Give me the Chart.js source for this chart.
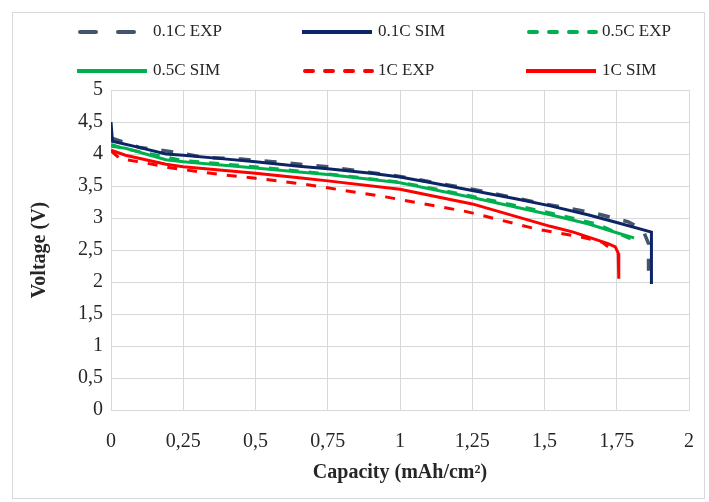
<!DOCTYPE html>
<html>
<head>
<meta charset="utf-8">
<script src="https://cdn.jsdelivr.net/npm/chart.js@4.4.1/dist/chart.umd.min.js"></script>
<style>
  html, body { margin: 0; padding: 0; background: #fff; }
</style>
</head>
<body>
<canvas id="myChart" width="709" height="502"></canvas>
<script>
// 數據 : 放電曲線 (容量 mAh/cm2 , 電壓 V)
var seriesNames = ['0.1C EXP', '0.1C SIM', '0.5C EXP', '0.5C SIM', '1C EXP', '1C SIM'];

var exp01X = [0, 0.1, 0.22, 0.32, 0.45, 0.56, 0.75, 1, 1.25, 1.5, 1.67, 1.79, 1.84, 1.86, 1.86];
var exp01Y = [4.25, 4.1, 4.03, 3.95, 3.92, 3.88, 3.8, 3.65, 3.45, 3.22, 3.08, 2.94, 2.82, 2.6, 2.1];

var sim01X = [0, 0.005, 0.1, 0.19, 0.25, 0.4, 0.5, 0.65, 0.75, 0.9, 1, 1.1, 1.25, 1.4, 1.52, 1.65, 1.75, 1.87, 1.87];
var sim01Y = [4.5, 4.2, 4.1, 4.0, 3.98, 3.92, 3.88, 3.81, 3.77, 3.7, 3.64, 3.56, 3.43, 3.3, 3.19, 3.05, 2.93, 2.78, 1.97];

var exp05X = [0, 0.05, 0.25, 0.5, 0.75, 1, 1.14, 1.25, 1.5, 1.68, 1.8];
var exp05Y = [4.15, 4.08, 3.9, 3.8, 3.69, 3.56, 3.44, 3.34, 3.1, 2.91, 2.67];

var sim05X = [0, 0.05, 0.19, 0.25, 0.5, 0.65, 0.75, 1, 1.25, 1.52, 1.65, 1.75, 1.81];
var sim05Y = [4.12, 4.09, 3.91, 3.88, 3.78, 3.72, 3.68, 3.55, 3.32, 3.05, 2.91, 2.77, 2.69];

var exp1X = [0, 0.03, 0.12, 0.21, 0.31, 0.4, 0.5, 0.58, 0.68, 0.95, 1.23, 1.48, 1.63, 1.7, 1.72];
var exp1Y = [4.05, 3.93, 3.86, 3.78, 3.72, 3.67, 3.62, 3.58, 3.52, 3.33, 3.1, 2.82, 2.7, 2.62, 2.55];

var sim1X = [0, 0.05, 0.19, 0.25, 0.5, 0.65, 0.75, 1, 1.25, 1.52, 1.6, 1.72, 1.745, 1.755, 1.757];
var sim1Y = [4.06, 3.98, 3.84, 3.8, 3.7, 3.63, 3.58, 3.45, 3.22, 2.87, 2.78, 2.6, 2.55, 2.45, 2.05];

var xTicks = [0, 0.25, 0.5, 0.75, 1, 1.25, 1.5, 1.75, 2];
var yTicks = [0, 0.5, 1, 1.5, 2, 2.5, 3, 3.5, 4, 4.5, 5];

function pts(xs, ys){
  return xs.map(function(x, i){ return {x: x, y: ys[i]}; });
}
function comma(v){
  return String(v).replace('.', ',');
}

var colors = ['#44546a', '#0d2566', '#00b050', '#00b050', '#ff0000', '#ff0000'];
var dashes = [[12, 14], [], [10, 10], [], [10, 10], []];
var widths = [3.5, 3, 3, 3, 3, 3];
var allData = [pts(exp01X, exp01Y), pts(sim01X, sim01Y), pts(exp05X, exp05Y),
               pts(sim05X, sim05Y), pts(exp1X, exp1Y), pts(sim1X, sim1Y)];

// 圖例 : 三欄兩列
var legendColX = [77, 302, 526];
var legendRowY = [32, 71];
var gridLegend = {
  id: 'gridLegend',
  beforeDraw: function(chart){
    var ctx = chart.ctx;
    ctx.save();
    ctx.fillStyle = '#fff';
    ctx.fillRect(0, 0, chart.width, chart.height);
    ctx.strokeStyle = '#d9d9d9';
    ctx.lineWidth = 1;
    ctx.strokeRect(12.5, 12.5, 692, 486);
    ctx.restore();
  },
  afterDraw: function(chart){
    var ctx = chart.ctx;
    ctx.save();
    chart.data.datasets.forEach(function(ds, i){
      var x = legendColX[i % 3], y = legendRowY[Math.floor(i / 3)];
      ctx.beginPath();
      ctx.strokeStyle = ds.borderColor;
      ctx.lineWidth = 4;
      ctx.lineCap = ds.borderDash.length ? 'round' : 'butt';
      ctx.setLineDash(i === 0 ? [16, 22] : (ds.borderDash.length ? [8, 12] : []));
      ctx.moveTo(x + (ds.borderDash.length ? 3 : 0), y);
      ctx.lineTo(x + 70, y);
      ctx.stroke();
      ctx.setLineDash([]);
      ctx.fillStyle = '#262626';
      ctx.font = "17px 'Liberation Serif'";
      ctx.textBaseline = 'middle';
      ctx.fillText(ds.label, x + 76, y);
    });
    ctx.restore();
  }
};

Chart.defaults.font.family = "'Liberation Serif', 'Times New Roman', serif";
Chart.defaults.color = '#262626';

new Chart(document.getElementById('myChart'), {
  type: 'scatter',
  data: {
    datasets: seriesNames.map(function(name, i){
      return {
        label: name,
        data: allData[i],
        showLine: true,
        borderColor: colors[i],
        backgroundColor: colors[i],
        borderDash: dashes[i],
        borderWidth: widths[i],
        pointRadius: 0,
        tension: 0,
        order: 6 - i
      };
    })
  },
  options: {
    responsive: false,
    animation: false,
    layout: { padding: { left: 22, right: 20, top: 90, bottom: 14 } },
    plugins: { legend: { display: false }, tooltip: { enabled: false } },
    scales: {
      x: {
        type: 'linear', min: 0, max: 2,
        afterBuildTicks: function(s){ s.ticks = xTicks.map(function(v){ return {value: v}; }); },
        afterFit: function(s){ s.height = 502 - 410 - 14; s.paddingLeft = 0; s.paddingRight = 0; },
        grid: { color: '#d9d9d9', drawTicks: false },
        border: { color: '#d9d9d9' },
        ticks: { padding: 20, font: { size: 20 }, callback: function(v){ return comma(v); }, maxRotation: 0 },
        title: { display: true, text: 'Capacity (mAh/cm²)', font: { size: 20, weight: 'bold' }, padding: { top: 4, bottom: 3 } }
      },
      y: {
        min: 0, max: 5,
        afterBuildTicks: function(s){ s.ticks = yTicks.map(function(v){ return {value: v}; }); },
        afterFit: function(s){ s.width = 111 - 22; s.paddingTop = 0; s.paddingBottom = 0; },
        grid: { color: '#d9d9d9', drawTicks: false },
        border: { color: '#d9d9d9' },
        ticks: { padding: 8, font: { size: 20 }, callback: function(v){ return comma(v); } },
        title: { display: true, text: 'Voltage (V)', font: { size: 20, weight: 'bold' }, padding: { top: 6, bottom: 4 } }
      }
    }
  },
  plugins: [gridLegend]
});
</script>
</body>
</html>
